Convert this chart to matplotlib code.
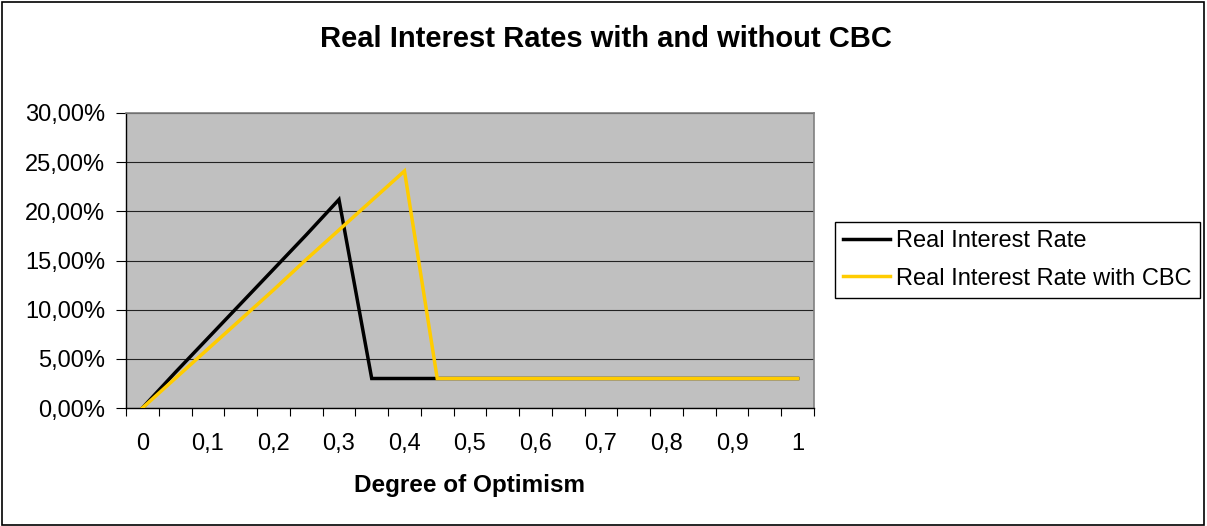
import matplotlib.pyplot as plt
import numpy as np
from matplotlib.patches import Rectangle
from matplotlib.ticker import FuncFormatter

plt.rcParams['font.family'] = ['Liberation Sans', 'DejaVu Sans']

# Degree of optimism (category axis) and the two rate series, in percent
optimism = [0, 0.05, 0.1, 0.15, 0.2, 0.25, 0.3, 0.35, 0.4, 0.45, 0.5,
            0.55, 0.6, 0.65, 0.7, 0.75, 0.8, 0.85, 0.9, 0.95, 1]
real_rate = [0, 3.6, 7.1, 10.6, 14.1, 17.6, 21.2, 3, 3, 3, 3,
             3, 3, 3, 3, 3, 3, 3, 3, 3, 3]
real_rate_cbc = [0, 3.0, 6.0, 9.0, 12.0, 15.1, 18.1, 21.1, 24.1, 3, 3,
                 3, 3, 3, 3, 3, 3, 3, 3, 3, 3]
y_ticks = [0, 5, 10, 15, 20, 25, 30]

W, H = 1207, 526
fig = plt.figure(figsize=(W / 100, H / 100), dpi=100)
ax = fig.add_axes([126 / W, 1 - 408 / H, (814 - 126) / W, (408 - 113) / H])
ax.set_facecolor('#C0C0C0')

x = np.arange(len(optimism))
ax.plot(x, real_rate, color='black', lw=2.5, solid_joinstyle='miter',
        label='Real Interest Rate', zorder=3)
ax.plot(x, real_rate_cbc, color='#FFCC00', lw=2.5, solid_joinstyle='miter',
        label='Real Interest Rate with CBC', zorder=4)

ax.set_xlim(-0.5, len(optimism) - 0.5)
ax.set_ylim(0, 30)

# y axis
ax.set_yticks(y_ticks)
ax.yaxis.set_major_formatter(FuncFormatter(lambda v, p: f"{v:.2f}%".replace('.', ',')))
ax.yaxis.grid(True, color='#222222', lw=0.8)
ax.set_axisbelow(True)
ax.tick_params(axis='y', length=7, width=0.8, pad=8, labelsize=17)

# x axis: ticks between categories, labels every second category
ax.set_xticks(x[::2])
ax.set_xticklabels([f"{c:g}".replace('.', ',') for c in optimism[::2]])
ax.set_xticks(np.arange(-0.5, len(optimism), 1), minor=True)
ax.tick_params(axis='x', which='major', length=0, pad=18, labelsize=17)
ax.tick_params(axis='x', which='minor', length=6, width=0.8)

for side in ['top', 'right']:
    ax.spines[side].set_color('#808080')
    ax.spines[side].set_linewidth(1.2)
for side in ['left', 'bottom']:
    ax.spines[side].set_color('black')
    ax.spines[side].set_linewidth(1.0)

fig.text(606 / W, 1 - 47 / H, 'Real Interest Rates with and without CBC',
         ha='center', va='baseline', fontsize=21, fontweight='bold')
fig.text(470 / W, 1 - 492 / H, 'Degree of Optimism',
         ha='center', va='baseline', fontsize=17.5, fontweight='bold')

leg = ax.legend(loc='upper left', bbox_to_anchor=(835 / W, 1 - 222 / H),
                bbox_transform=fig.transFigure, borderaxespad=0, fontsize=17,
                frameon=True, fancybox=False, framealpha=1, edgecolor='black',
                handlelength=2.0, handletextpad=0.25, labelspacing=0.65,
                borderpad=0.35)
leg.get_frame().set_linewidth(1.0)

fig.patches.append(Rectangle((2 / W, 1 / H), (W - 5) / W, (H - 2.5) / H,
                             transform=fig.transFigure, fill=False,
                             edgecolor='black', lw=1.2))

fig.savefig('out.png', dpi=100)
